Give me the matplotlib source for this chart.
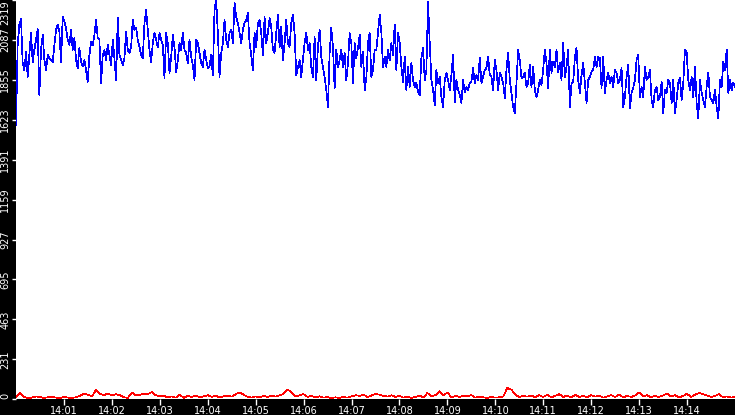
import matplotlib
matplotlib.use('Agg')
import matplotlib.pyplot as plt
import numpy as np

# blue series, evenly sampled over 14:00:00 - 14:15:00
blue_values = [
    1593, 2058, 2174, 2209, 1953, 1912, 2017, 1872, 1999, 2127, 1959, 2029,
    2087, 2150, 1767, 2029, 2116, 1970, 1912, 1999, 1982, 1970, 1959, 2058,
    2145, 2174, 2133, 1959, 2220, 2191, 2156, 2087, 2058, 2145, 2029, 2098,
    1970, 1924, 2040, 1959, 1936, 1970, 1912, 1843, 1999, 2075, 2058, 2116,
    2203, 2098, 2087, 1837, 1999, 2029, 1970, 2058, 1999, 1941, 2087, 1982,
    1854, 2214, 1999, 1970, 1941, 1982, 2133, 2029, 2011, 2046, 2203, 2145,
    2156, 2087, 2046, 1999, 1982, 2185, 2261, 2145, 2029, 1959, 2069, 2127,
    2087, 2046, 2127, 2087, 2058, 1866, 2127, 2069, 1895, 1988, 2116, 2046,
    1901, 1970, 2069, 2029, 2127, 2029, 2011, 1953, 2087, 1988, 1941, 1854,
    2087, 2069, 2011, 1953, 1930, 2029, 1970, 1924, 1930, 1999, 1883, 2261,
    2319, 2127, 1872, 2011, 2069, 2203, 2087, 2046, 2127, 2145, 2069, 2302,
    2220, 2185, 2127, 2069, 2145, 2185, 2203, 2243, 2069, 1999, 1912, 2127,
    2046, 2185, 2203, 2127, 1999, 2220, 2069, 2127, 2214, 2162, 2029, 2011,
    2127, 2232, 2046, 2162, 1970, 2069, 2203, 2069, 2046, 2185, 2232, 2127,
    1883, 1930, 1970, 1872, 1970, 2069, 2127, 2029, 2069, 1930, 1872, 2104,
    1854, 2046, 2145, 1988, 1930, 1872, 1796, 1697, 2011, 2156, 2046, 1808,
    2029, 1930, 1970, 2029, 1930, 2011, 1854, 1953, 2127, 2069, 1837, 2069,
    1982, 2040, 2116, 1930, 2017, 1796, 1866, 2069, 2127, 1872, 1912, 2029,
    2029, 2133, 2232, 2133, 1930, 1988, 1930, 2029, 1970, 2069, 1999, 2174,
    1912, 2127, 2069, 1930, 1843, 1988, 1796, 1930, 1814, 1953, 1854, 1814,
    1837, 1784, 1767, 1982, 2040, 1854, 1912, 2307, 2069, 1854, 1796, 1709,
    1912, 1837, 1872, 1755, 1697, 1854, 1895, 1854, 1796, 1883, 1999, 1726,
    1854, 1796, 1767, 1721, 1854, 1784, 1814, 1796, 1837, 1843, 1924, 1837,
    1883, 1854, 1982, 1837, 1872, 1912, 1924, 1988, 1883, 1872, 1796, 1970,
    1912, 1796, 1895, 1872, 1837, 1750, 1912, 2011, 1854, 1779, 1697, 1662,
    1837, 2029, 1970, 1866, 1872, 1895, 1814, 1837, 1941, 1814, 1930, 1796,
    1755, 1796, 1854, 1825, 1912, 2029, 1953, 1808, 2029, 1895, 1959, 1930,
    2029, 1901, 1953, 1854, 2069, 1872, 1930, 2029, 1697, 1837, 1843, 1982,
    2040, 1854, 1779, 1883, 1953, 1837, 1721, 1854, 1872, 1901, 1912, 1988,
    1930, 1988, 1982, 1808, 1988, 1779, 1854, 1895, 1837, 1872, 1814, 1912,
    1895, 1837, 1854, 1924, 1697, 1755, 1872, 1941, 1692, 1779, 1808, 1854,
    1970, 1999, 1755, 1814, 1755, 1930, 1854, 1872, 1912, 1738, 1697, 1796,
    1814, 1738, 1755, 1843, 1662, 1796, 1779, 1854, 1837, 1721, 1854, 1662,
    1738, 1837, 1866, 1738, 1837, 2029, 2017, 1854, 1796, 1872, 1755, 1930,
    1721, 1633, 1854, 1779, 1738, 1697, 1814, 1895, 1755, 1738, 1721, 1796,
    1697, 1633, 1854, 1814, 1959, 1912, 2029, 1779, 1854, 1796, 1837, 1814,
]

# red series, one value every 5 seconds
red_values = [
    10, 38, 12, 5, 8, 15, 12, 6, 10, 14, 8, 5, 12, 8, 6, 10, 18, 32, 25, 15,
    52, 30, 22, 32, 20, 28, 22, 10, 6, 38, 20, 25, 30, 28, 40, 22, 15, 18, 10, 15,
    8, 25, 6, 18, 12, 20, 10, 15, 22, 12, 18, 10, 16, 20, 14, 28, 38, 25, 12, 8,
    15, 10, 18, 12, 20, 14, 22, 30, 54, 40, 15, 22, 28, 12, 18, 10, 16, 8, 12, 5,
    10, 6, 12, 8, 15, 22, 18, 25, 12, 20, 30, 25, 18, 14, 22, 12, 18, 8, 14, 6,
    12, 20, 10, 35, 15, 22, 45, 20, 38, 10, 18, 12, 20, 15, 22, 8, 14, 10, 6, 12,
    8, 10, 15, 64, 55, 25, 12, 18, 14, 20, 10, 22, 12, 25, 10, 18, 28, 12, 20, 8,
    25, 12, 18, 10, 22, 14, 20, 8, 15, 22, 12, 25, 10, 18, 12, 20, 38, 15, 22, 10,
    18, 12, 20, 32, 14, 22, 8, 18, 30, 12, 25, 35, 28, 20, 12, 18, 28, 10, 15, 8,
    12,
]

y_ticks = [0, 231, 463, 695, 927, 1159, 1391, 1623, 1855, 2087, 2319]
tick_minutes = list(range(1, 15))
start_hour = 14
span_seconds = 900

fig = plt.figure(figsize=(7.35, 4.15), dpi=100, facecolor='black')
ax = fig.add_axes([16 / 735, 16 / 415, 1 - 16 / 735, 1 - 16 / 415])
ax.set_facecolor('white')

t_blue = np.linspace(0, span_seconds, len(blue_values))
t_red = np.linspace(0, span_seconds, len(red_values))
ax.plot(t_blue, blue_values, color='#0000ff', lw=0.5, antialiased=False)
ax.plot(t_red, red_values, color='#ff0000', lw=0.5, antialiased=False)

ax.set_xlim(0, span_seconds)
ax.set_ylim(0, y_ticks[-1])
ax.set_xticks([m * 60 for m in tick_minutes],
              [f"{start_hour}:{m:02d}" for m in tick_minutes])
ax.set_yticks(y_ticks, [str(v) for v in y_ticks])

ax.tick_params(axis='x', colors='white', length=4, width=1, pad=1, labelsize=7)
ax.tick_params(axis='y', colors='white', length=3, width=1, pad=1, labelsize=7,
               labelrotation=90)
ylabels = ax.get_yticklabels()
for lab in ylabels:
    lab.set_va('center')
ylabels[0].set_va('bottom')
ylabels[-1].set_va('top')

for s in ax.spines.values():
    s.set_visible(False)

fig.savefig('out.png', dpi=100, facecolor='black')
